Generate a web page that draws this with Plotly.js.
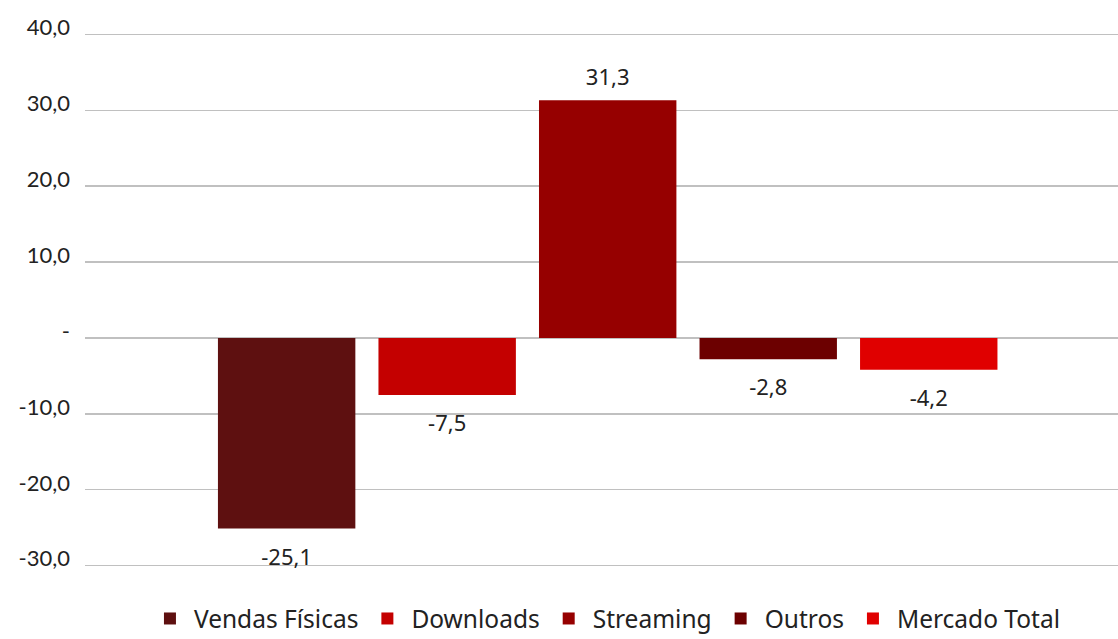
<!DOCTYPE html>
<html>
<head>
<meta charset="utf-8">
<script src="https://cdn.plot.ly/plotly-3.0.1.min.js"></script>
<style>html,body{margin:0;padding:0;background:#fff;}#chart{width:1118px;height:639px;}</style>
</head>
<body>
<div id="chart"></div>
<script>
const seriesNames = ["Vendas Físicas", "Downloads", "Streaming", "Outros", "Mercado Total"];
const seriesValues = [-25.1, -7.5, 31.3, -2.8, -4.2];
const seriesColors = ["#5e1010", "#c40000", "#960000", "#6c0000", "#e00000"];
const tickValues = [40, 30, 20, 10, 0, -10, -20, -30];
const tickLabels = ["40,0", "30,0", "20,0", "10,0", "-", "-10,0", "-20,0", "-30,0"];

const fmt = v => v.toFixed(1).replace(".", ",");

const traces = seriesNames.map((name, i) => ({
  type: "bar",
  name: name,
  x: [""],
  y: [seriesValues[i]],
  text: [fmt(seriesValues[i])],
  textposition: "outside",
  textfont: {family: "Noto Sans, sans-serif", size: 22, color: "#222"},
  cliponaxis: false,
  marker: {color: seriesColors[i], line: {width: 0}},
  hoverinfo: "skip"
}));

const layout = {
  width: 1118,
  height: 639,
  margin: {l: 85, r: 0, t: 32, b: 71},
  paper_bgcolor: "#fff",
  plot_bgcolor: "#fff",
  barmode: "group",
  bargap: 0.223,
  bargroupgap: 0.144,
  showlegend: true,
  legend: {
    orientation: "h",
    xref: "container", yref: "container",
    x: 0.542, xanchor: "center",
    y: 0.032, yanchor: "middle",
    font: {family: "Noto Sans, sans-serif", size: 24.5, color: "#222"},
    itemwidth: 38,
    itemsizing: "constant",
    traceorder: "normal"
  },
  xaxis: {
    range: [-0.506, 0.494],
    showticklabels: false,
    showgrid: false,
    zeroline: false,
    showline: false,
    fixedrange: true
  },
  yaxis: {
    range: [-30.3, 40.3],
    tickmode: "array",
    tickvals: tickValues,
    ticktext: tickLabels,
    tickfont: {family: "Lato, sans-serif", size: 22, color: "#222"},
    ticklabelshift: -7,
    ticklabelstandoff: 14,
    showgrid: true,
    gridcolor: "#c0c0c0",
    gridwidth: 1.3,
    zeroline: true,
    zerolinecolor: "#c0c0c0",
    zerolinewidth: 1.3,
    showline: false,
    ticks: ""
  }
};

Plotly.newPlot("chart", traces, layout, {displayModeBar: false, staticPlot: true}).then(gd => {
  // push outside value labels a little further from the bar ends
  gd.querySelectorAll(".trace.bars").forEach((tr, i) => {
    const v = seriesValues[i];
    tr.querySelectorAll("text.bartext").forEach(t => {
      const dy = v >= 0 ? -6 : 9;
      const tf = t.getAttribute("transform") || "";
      t.setAttribute("transform", "translate(0," + dy + ") " + tf);
    });
  });
});
</script>
</body>
</html>
